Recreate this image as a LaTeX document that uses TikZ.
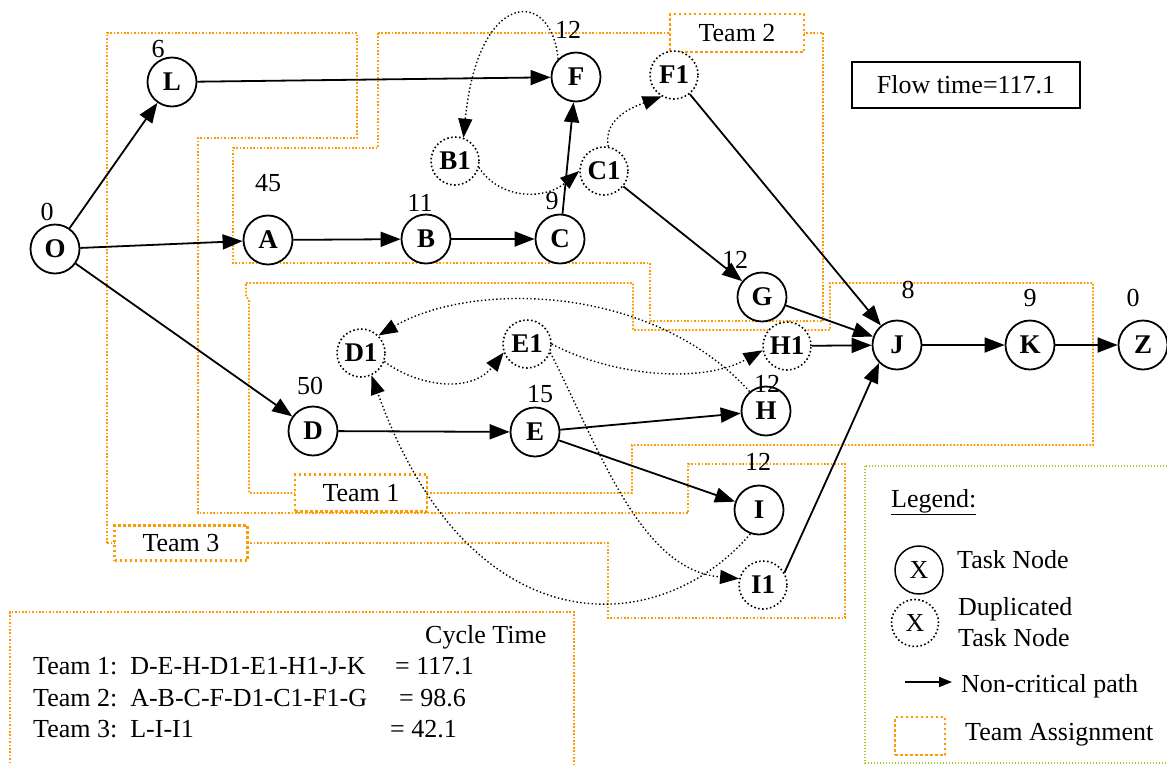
\documentclass[tikz,border=0pt]{standalone}
\usepackage{fontspec}
\setmainfont{Liberation Serif}
\usetikzlibrary{arrows.meta}
\definecolor{teamorange}{RGB}{255,153,0}
\definecolor{legendgreen}{RGB}{155,200,40}
\newcommand{\bodyfont}{\fontsize{26}{31}\selectfont}
\newcommand{\tasklabelfont}{\fontsize{27}{32}\selectfont\bfseries}
\tikzset{
  task/.style={circle, draw, fill=white, line width=1.8pt, minimum size=49pt, inner sep=0pt, font=\tasklabelfont},
  dup/.style={circle, draw, fill=white, line width=1.6pt, dash pattern=on 1.6pt off 2.4pt, minimum size=48pt, inner sep=0pt, font=\tasklabelfont},
  arc/.style={line width=1.8pt, -{Triangle[length=20pt,width=15pt]}},
  duparc/.style={line width=1.4pt, dash pattern=on 1.4pt off 2.4pt, -{Triangle[length=19pt,width=14pt]}},
  teamline/.style={draw=teamorange, line width=1.7pt, dash pattern=on 1.7pt off 1.7pt},
  teambox/.style={draw=teamorange, fill=white, line width=2.5pt, dash pattern=on 2.5pt off 2.5pt, inner sep=0pt},
  wt/.style={inner sep=0pt},
  txt/.style={inner sep=0pt, anchor=west},
}
\begin{document}
\begin{tikzpicture}[x=1pt, y=-1pt, font=\bodyfont]
\useasboundingbox (0,0) rectangle (1167,764);
\clip (0,0) rectangle (1167,764);

% team regions
\draw[teamline] (107,543) -- (107,33) -- (357,33) -- (357,138) -- (198,138) -- (198,513)
  -- (688,513) -- (688,464) -- (845,464) -- (845,618) -- (608,618) -- (608,543) -- cycle;
\draw[teamline] (246,283) -- (633,283) -- (633,330) -- (830,330) -- (830,283) -- (1093,283)
  -- (1093,445) -- (632,445) -- (632,493) -- (249,493) -- (249,300) -- (246,296) -- cycle;
\draw[teamline] (378,33) -- (823,33) -- (823,321) -- (650,321) -- (650,263) -- (233,263)
  -- (233,148) -- (378,148) -- cycle;

\node[teambox, minimum width=134pt, minimum height=38pt] (team2) at (737,33) {Team 2};
\node[teambox, minimum width=132pt, minimum height=37pt] (team1) at (361,493) {Team 1};
\node[teambox, minimum width=133pt, minimum height=35pt] (team3) at (181,543) {Team 3};

% flow time
\node[draw, line width=1.5pt, minimum width=228pt, minimum height=46pt, inner sep=0pt] (flow) at (966,85) {Flow time=117.1};

% task nodes
\node[task] (O) at (55,249) {O};
\node[task] (L) at (172,82) {L};
\node[task] (A) at (268,240) {A};
\node[task] (B) at (426,239) {B};
\node[task] (C) at (560,239) {C};
\node[task] (F) at (576,77) {F};
\node[task] (G) at (762,297) {G};
\node[task] (J) at (897,345) {J};
\node[task] (K) at (1030,345) {K};
\node[task] (Z) at (1143,345) {Z};
\node[task] (H) at (766,411) {H};
\node[task] (D) at (313,431) {D};
\node[task] (E) at (535,432) {E};
\node[task] (I) at (759,510) {I};

% duplicated task nodes
\node[dup] (B1) at (455,161) {B1};
\node[dup] (C1) at (604,171) {C1};
\node[dup] (F1) at (674,75) {F1};
\node[dup] (D1) at (361,353) {D1};
\node[dup] (E1) at (527,344) {E1};
\node[dup] (H1) at (787,346) {H1};
\node[dup] (I1) at (763,585) {I1};

% task times
\node[wt] (wO) at (47,212) {0};
\node[wt] (wL) at (158,49) {6};
\node[wt] (wA) at (268,183) {45};
\node[wt] (wB) at (420,203) {11};
\node[wt] (wC) at (552,201) {9};
\node[wt] (wF) at (568,30) {12};
\node[wt] (wG) at (735,260) {12};
\node[wt] (wJ) at (908,290) {8};
\node[wt] (wK) at (1030,298) {9};
\node[wt] (wZ) at (1133,298) {0};
\node[wt] (wD) at (310,386) {50};
\node[wt] (wE) at (540,394) {15};
\node[wt] (wH) at (767,384) {12};
\node[wt] (wI) at (758,462) {12};

% precedence arcs
\draw[arc] (O) -- (L);
\draw[arc] (O) -- (A);
\draw[arc] (O) -- (D);
\draw[arc] (L) -- (F);
\draw[arc] (A) -- (B);
\draw[arc] (B) -- (C);
\draw[arc] (C) -- (F);
\draw[arc] (C1) -- (G);
\draw[arc] (F1) -- (J);
\draw[arc] (G) -- (J);
\draw[arc] (H1) -- (J);
\draw[arc] (J) -- (K);
\draw[arc] (K) -- (Z);
\draw[arc] (D) -- (E);
\draw[arc] (E) -- (H);
\draw[arc] (E) -- (I);
\draw[arc] (I1.30) .. controls (838,455) .. (J.south west);

% arcs of duplicated tasks
\draw[duparc] (F.north west) .. controls (552,-12) and (478,-12) .. (B1.70);
\draw[duparc] (B1.-15) .. controls (500,200) and (545,200) .. (C1.west);
\draw[duparc] (C1.80) .. controls (603,120) and (630,108) .. (F1.-120);
\draw[duparc] (D1.-20) .. controls (415,385) and (470,395) .. (E1.200);
\draw[duparc] (E1.east) .. controls (610,375) and (700,385) .. (H1.190);
\draw[duparc] (H.130) .. controls (650,282) and (470,282) .. (D1.north east);
\draw[duparc] (E1.-20) .. controls (600,450) and (640,570) .. (I1.165);
\draw[duparc] (I.250) .. controls (660,640) and (470,650) .. (D1.-65);

% cycle time table
\draw[teamline] (10,770) -- (10,612) -- (574,612) -- (574,770);
\node[txt] (ctitle) at (425,637) {Cycle Time};
\node[txt] (row1) at (33,666) {Team 1:\ \ D-E-H-D1-E1-H1-J-K};
\node[txt] (val1) at (395,666) {= 117.1};
\node[txt] (row2) at (33,698) {Team 2:\ \ A-B-C-F-D1-C1-F1-G};
\node[txt] (val2) at (399,698) {= 98.6};
\node[txt] (row3) at (33,729) {Team 3:\ \ L-I-I1};
\node[txt] (val3) at (390,729) {= 42.1};

% legend
\draw[draw=legendgreen, line width=1.4pt, dash pattern=on 1.4pt off 1.6pt] (865,466) rectangle (1175,763);
\node[txt] (legtitle) at (891,502) {\underline{Legend:}};
\node[task, line width=1.5pt, minimum size=48pt, font=\bodyfont] (legT) at (919,570) {\raisebox{-4pt}{X}};
\node[txt] (legTtxt) at (957,560) {Task Node};
\node[dup, minimum size=47pt, font=\bodyfont] (legD) at (915,623) {\raisebox{-4pt}{X}};
\node[txt, align=left] (legDtxt) at (958,622) {Duplicated\\Task Node};
\coordinate (legA1) at (905,682);
\coordinate (legA2) at (952,682);
\draw[line width=1.6pt, -{Triangle[length=13pt,width=10pt]}] (legA1) -- (legA2);
\node[txt] (legAtxt) at (961,686) {Non-critical path};
\node[teambox, minimum width=50pt, minimum height=38pt] (legbox) at (920,736) {};
\node[txt] (legboxtxt) at (965,735) {Team Assignment};
\end{tikzpicture}
\end{document}
